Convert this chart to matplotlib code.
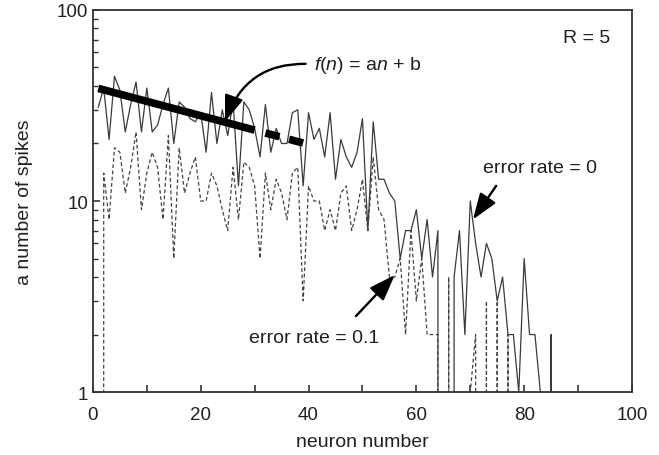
import numpy as np
import matplotlib
matplotlib.use("Agg")
import matplotlib.pyplot as plt
from matplotlib.ticker import MultipleLocator, LogLocator, NullFormatter

plt.rcParams['font.family'] = ['Liberation Sans', 'DejaVu Sans']
plt.rcParams['mathtext.fontset'] = 'custom'
plt.rcParams['mathtext.rm'] = 'Liberation Sans'
plt.rcParams['mathtext.it'] = 'Liberation Sans:italic'

# -------------------------------
# data
# -------------------------------

# error rate = 0  (solid)
spikes_err0 = [31, 39, 21, 45, 38, 23, 32, 42, 23, 39,
               23, 25, 32, 39, 20, 33, 31, 27, 26, 29,
               18, 37, 20, 30, 22, 33, 12, 33, 30, 24,
               17, 32, 18, 24, 20, 20, 29, 30, 12, 29,
               21, 24, 17, 29, 13, 21, 17, 15, 18, 27,
               7, 26, 13, 13, 11, 10, 5, 7, 7, 9,
               5, 8, 4, 7, 0, 0, 4, 7, 2, 10,
               6, 4, 6, 5, 3, 4, 2, 2, 1, 5,
               2, 2, 1, 0, 2, 0]
n_err0 = list(range(1, len(spikes_err0) + 1))

# error rate = 0.1  (dashed)
spikes_err01 = [0, 14, 8, 19, 18, 11, 15, 23, 9, 14,
                18, 15, 8, 22, 5, 19, 11, 14, 17, 10,
                10, 14, 12, 9, 7, 15, 8, 16, 15, 12,
                5, 14, 9, 13, 11, 8, 14, 15, 3, 12,
                10, 10, 7, 9, 7, 11, 12, 7, 9, 13,
                7, 17, 9, 8, 4, 4, 5, 2, 7, 3,
                5, 2, 2, 2, 0, 4, 0, 0, 0, 1,
                2, 0, 3, 0, 3, 0, 2, 0]
n_err01 = list(range(1, len(spikes_err01) + 1))

# fitted line  log10 f(n) = a*n + b
fit_a = -0.00753
fit_b = 1.597
fit_solid_n = [1, 30]
fit_dash_n = [32, 39]

ink = '#231f20'

fig = plt.figure(figsize=(6.59, 4.56), dpi=100)
ax = fig.add_axes([0.141, 0.138, 0.818, 0.838])

ax.plot(n_err0, spikes_err0, color='#3a3a3a', lw=0.9)
ax.plot(n_err01, spikes_err01, color='#444444', lw=0.9, dashes=(3, 2))

fs = np.array(fit_solid_n)
fd = np.array(fit_dash_n)
ax.plot(fs, 10 ** (fit_a * fs + fit_b), color='black', lw=5.5, solid_capstyle='butt')
ax.plot(fd, 10 ** (fit_a * fd + fit_b), color='black', lw=5.5,
        dashes=(1.9, 1.3), dash_capstyle='butt')

ax.set_yscale('log')
ax.set_xlim(0, 100)
ax.set_ylim(1, 100)

ax.xaxis.set_major_locator(MultipleLocator(20))
ax.xaxis.set_minor_locator(MultipleLocator(10))
ax.set_yticks([1, 10, 100])
ax.set_yticklabels(['1', '10', '100'])
ax.yaxis.set_minor_locator(LogLocator(base=10, subs=np.arange(2, 10)))
ax.yaxis.set_minor_formatter(NullFormatter())

ax.tick_params(which='both', direction='in', colors='#333333', labelcolor=ink,
               labelsize=13.5, top=False, right=False)
ax.tick_params(which='major', length=5, width=1.2)
ax.tick_params(which='minor', length=3.5, width=1.0)
ax.tick_params(axis='x', which='minor', length=5, width=1.2)
ax.tick_params(axis='x', pad=10)
for s in ax.spines.values():
    s.set_color('#333333')
    s.set_linewidth(1.3)

ax.set_xlabel('neuron number', fontsize=14, color=ink, labelpad=7)
ax.set_ylabel('a number of spikes', fontsize=14, color=ink, labelpad=17)

ax.text(96, 72, 'R = 5', fontsize=14, color=ink, ha='right', va='center')

arrow = dict(arrowstyle='-|>,head_length=1.0,head_width=0.36', color='black',
             lw=1.7, shrinkA=0, shrinkB=0, mutation_scale=16)

ax.annotate(r'$f$($n$) = a$n$ + b', xy=(24.5, 26), xytext=(41, 52),
            fontsize=14, color=ink, ha='left', va='center',
            arrowprops=dict(arrow, connectionstyle='arc3,rad=0.38',
                            relpos=(0, 0.5), shrinkA=4))

ax.text(83, 14.9, 'error rate = 0', fontsize=14, color=ink, ha='center', va='center')
ax.annotate('', xy=(70.5, 8.0), xytext=(74.8, 12.0), arrowprops=arrow)

ax.text(41, 1.92, 'error rate = 0.1', fontsize=14, color=ink, ha='center', va='center')
ax.annotate('', xy=(56, 4.1), xytext=(48.8, 2.5), arrowprops=arrow)

fig.savefig('out.png', dpi=100)
